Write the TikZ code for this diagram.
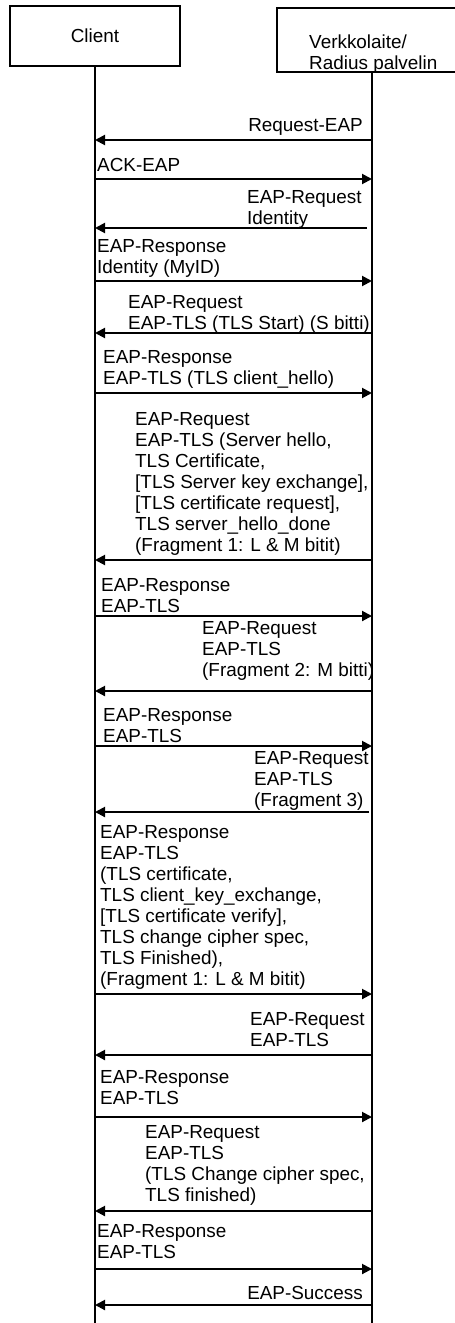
\documentclass[tikz,border=0pt]{standalone}
\usepackage{fontspec}
\setmainfont{Liberation Sans}
\usetikzlibrary{arrows.meta}
\begin{document}
\begin{tikzpicture}[x=1pt,y=-1pt,
  every node/.style={font=\fontsize{18.9}{21}\selectfont, inner sep=0pt},
  lbl/.style={anchor=north west, align=left},
  lblr/.style={anchor=north east, align=right},
  box/.style={draw, line width=1.8pt},
  life/.style={line width=2pt},
  msg/.style={line width=2pt, -{Triangle[length=10pt,width=10pt]}}]
\path[use as bounding box, fill=white] (0,0) rectangle (455,1323);
% participants
\node[box, minimum width=170pt, minimum height=60pt] (cli) at (95,36) {Client};
\node[box, minimum width=193pt, minimum height=64pt] (srv) at (373.5,40) {};
\node[lbl] (srvlbl) at (309,35) {Verkkolaite/\\Radius palvelin};
\coordinate (C) at (95,1323);
\coordinate (S) at (372,1323);
\coordinate (Sa) at (367,1323);
\coordinate (Sb) at (369,1323);
\draw[life] (cli.south) -- (C);
\draw[life] (srv.south -| S) -- (S);
% messages
\node[lblr] (m1) at (363,118) {Request-EAP};
\draw[msg] (S |- 0,140) -- (C |- 0,140);
\node[lbl] (m2) at (97,158) {ACK-EAP};
\draw[msg] (C |- 0,179) -- (S |- 0,179);
\node[lbl] (m3) at (247,190) {EAP-Request\\Identity};
\draw[msg] (Sa |- 0,228) -- (C |- 0,228);
\node[lbl] (m4) at (97,239) {EAP-Response\\Identity (MyID)};
\draw[msg] (C |- 0,281) -- (S |- 0,281);
\node[lbl] (m5) at (128,295) {EAP-Request\\EAP-TLS (TLS Start) (S bitti)};
\draw[msg] (S |- 0,333) -- (C |- 0,333);
\node[lbl] (m6) at (103,350) {EAP-Response\\EAP-TLS (TLS client\_hello)};
\draw[msg] (C |- 0,393) -- (S |- 0,393);
\node[lbl] (m7) at (135,412) {EAP-Request\\EAP-TLS (Server hello,\\TLS Certificate,\\{}[TLS Server key exchange],\\{}[TLS certificate request],\\TLS server\_hello\_done\\(Fragment 1: L \& M bitit)};
\draw[msg] (S |- 0,560) -- (C |- 0,560);
\node[lbl] (m8) at (101,578) {EAP-Response\\EAP-TLS};
\draw[msg] (C |- 0,616) -- (S |- 0,616);
\node[lbl] (m9) at (202,621) {EAP-Request\\EAP-TLS\\(Fragment 2: M bitti)};
\draw[msg] (S |- 0,691) -- (C |- 0,691);
\node[lbl] (m10) at (103,708) {EAP-Response\\EAP-TLS};
\draw[msg] (C |- 0,746) -- (S |- 0,746);
\node[lbl] (m11) at (254,751) {EAP-Request\\EAP-TLS\\(Fragment 3)};
\draw[msg] (Sb |- 0,812) -- (C |- 0,812);
\node[lbl] (m12) at (100,825) {EAP-Response\\EAP-TLS\\(TLS certificate,\\TLS client\_key\_exchange,\\{}[TLS certificate verify],\\TLS change cipher spec,\\TLS Finished),\\(Fragment 1: L \& M bitit)};
\draw[msg] (C |- 0,994) -- (S |- 0,994);
\node[lbl] (m13) at (250,1012) {EAP-Request\\EAP-TLS};
\draw[msg] (S |- 0,1055) -- (C |- 0,1055);
\node[lbl] (m14) at (100,1070) {EAP-Response\\EAP-TLS};
\draw[msg] (C |- 0,1117) -- (S |- 0,1117);
\node[lbl] (m15) at (145,1125) {EAP-Request\\EAP-TLS\\(TLS Change cipher spec,\\TLS finished)};
\draw[msg] (S |- 0,1211) -- (C |- 0,1211);
\node[lbl] (m16) at (97,1224) {EAP-Response\\EAP-TLS};
\draw[msg] (C |- 0,1269) -- (S |- 0,1269);
\node[lblr] (m17) at (363,1286) {EAP-Success};
\draw[msg] (S |- 0,1305) -- (C |- 0,1305);
\end{tikzpicture}
\end{document}
